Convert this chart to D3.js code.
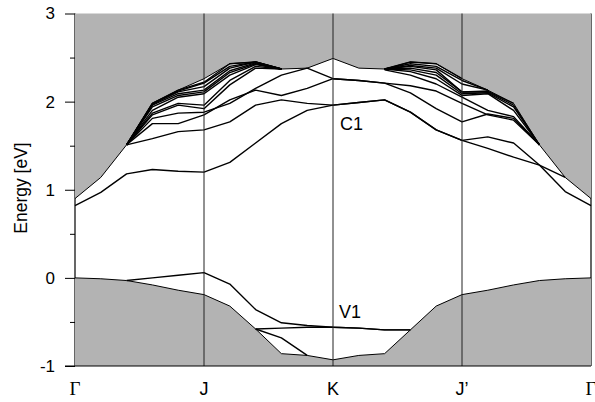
<!DOCTYPE html>
<html>
<head>
<meta charset="utf-8">
<script src="https://cdn.jsdelivr.net/npm/d3@7"></script>
<style>
  body { margin: 0; background: #fff; }
  svg { display: block; font-family: "Liberation Sans", Arial, sans-serif; }
</style>
</head>
<body>
<svg width="595" height="402"></svg>
<script>
// k-path: 21 points, Γ - J - K - J' - Γ
const kLabels = ["Γ", "J", "K", "J’", "Γ"];
const kTicks = [0, 5, 10, 15, 20];
const yTicks = [-1, 0, 1, 2, 3];
const yMinor = [-0.5, 0.5, 1.5, 2.5];

// edges of the shaded (continuum) regions
const upperEdge = [0.90, 1.14, 1.51, 1.98, 2.13, 2.26, 2.43, 2.45, 2.37, 2.38, 2.49, 2.38, 2.37, 2.45, 2.43, 2.26, 2.13, 1.98, 1.51, 1.14, 0.90];
const lowerEdge = [0.00, -0.01, -0.03, -0.08, -0.14, -0.19, -0.32, -0.58, -0.86, -0.88, -0.93, -0.88, -0.86, -0.59, -0.32, -0.19, -0.14, -0.08, -0.03, -0.01, 0.00];

// conduction bands (null = hidden under the edge)
const c1  = [0.82, 0.97, 1.18, 1.23, 1.21, 1.20, 1.31, 1.53, 1.75, 1.90, 1.96, 1.99, 2.02, 1.88, 1.68, 1.56, 1.47, 1.37, 1.28, 0.98, 0.82];
const c2  = [null, null, 1.51, 1.58, 1.66, 1.68, 1.77, 1.96, 2.02, 1.98, 1.96, 1.99, 2.02, 1.88, 1.68, 1.56, 1.60, 1.53, 1.28, 1.14, null];
const c3  = [null, null, 1.51, 1.75, 1.75, 1.85, 2.02, 2.13, 2.07, 2.15, 2.26, 2.24, 2.21, 2.10, 1.92, 1.77, 1.86, 1.81, 1.51, null, null];
const c4  = [null, null, 1.51, 1.81, 1.87, 1.88, 1.98, 2.15, 2.30, 2.38, 2.26, 2.24, 2.21, 2.18, 2.12, 1.98, 1.85, 1.79, 1.51, null, null];
const c5  = [null, null, 1.51, 1.85, 1.96, 1.92, 2.19, 2.38, 2.37, null, null, null, 2.36, 2.30, 2.20, 2.05, 1.90, 1.83, 1.51, null, null];
const c6  = [null, null, 1.51, 1.87, 1.98, 1.96, 2.24, 2.40, 2.37, null, null, null, 2.37, 2.34, 2.26, 2.07, 2.09, 1.90, 1.51, null, null];
const c7  = [null, null, 1.51, 1.90, 2.05, 2.09, 2.30, 2.42, 2.37, null, null, null, 2.37, 2.36, 2.30, 2.09, 2.10, 1.94, 1.51, null, null];
const c8  = [null, null, 1.51, 1.94, 2.07, 2.11, 2.33, 2.43, 2.37, null, null, null, 2.37, 2.38, 2.33, 2.11, 2.11, 1.96, 1.51, null, null];
const c9  = [null, null, 1.51, 1.96, 2.09, 2.13, 2.35, 2.44, 2.37, null, null, null, 2.37, 2.40, 2.36, 2.11, 2.12, 1.98, null, null, null];
const c10 = [null, null, 1.51, 1.97, 2.11, 2.17, 2.38, 2.45, 2.37, null, null, null, 2.37, 2.41, 2.38, 2.20, 2.13, null, null, null, null];
const c11 = [null, null, 1.51, 1.98, 2.12, 2.21, 2.40, 2.45, 2.37, null, null, null, 2.37, 2.43, 2.40, 2.24, 2.13, null, null, null, null];
const c12 = [null, null, 1.51, 1.98, 2.13, 2.22, 2.43, 2.45, 2.37, null, null, null, 2.37, 2.45, 2.43, 2.26, null, null, null, null, null];

// valence bands
const v1 = [null, null, -0.03, 0.00, 0.03, 0.06, -0.07, -0.36, -0.51, -0.54, -0.56, -0.57, -0.59, -0.59, null, null, null, null, null, null, null];
const v2 = [null, null, null, null, null, null, null, -0.58, -0.57, -0.56, -0.56, -0.57, -0.59, -0.59, null, null, null, null, null, null, null];
const v3 = [null, null, null, null, null, null, null, -0.58, -0.68, -0.88, null, null, null, null, null, null, null, null, null, null, null];

const bands = [c1, c2, c3, c4, c5, c6, c7, c8, c9, c10, c11, c12, v1, v2, v3];

const svg = d3.select("svg");
const x = d3.scaleLinear().domain([0, 20]).range([75, 591]);
const y = d3.scaleLinear().domain([-1, 3]).range([366, 13.5]);

// frame lines at the ends (drawn under the shading)
svg.selectAll(".edgek")
  .data([0, 20])
  .enter().append("line")
  .attr("x1", d => x(d)).attr("x2", d => x(d))
  .attr("y1", y(3)).attr("y2", y(-1))
  .attr("stroke", "#000").attr("stroke-width", 1.2);

const topArea = d3.area().x((d, i) => x(i)).y0(y(3)).y1(d => y(d));
const botArea = d3.area().x((d, i) => x(i)).y0(y(-1)).y1(d => y(d));

svg.append("path").attr("d", topArea(upperEdge)).attr("fill", "#b3b3b3");
svg.append("path").attr("d", botArea(lowerEdge)).attr("fill", "#b3b3b3");

const edgeLine = d3.line().x((d, i) => x(i)).y(d => y(d));
svg.selectAll(".edge")
  .data([upperEdge, lowerEdge])
  .enter().append("path")
  .attr("d", edgeLine)
  .attr("fill", "none")
  .attr("stroke", "#000")
  .attr("stroke-width", 1);

const bandLine = d3.line()
  .defined(d => d != null)
  .x((d, i) => x(i))
  .y(d => y(d));

svg.selectAll(".band")
  .data(bands)
  .enter().append("path")
  .attr("class", "band")
  .attr("d", bandLine)
  .attr("fill", "none")
  .attr("stroke", "#000")
  .attr("stroke-width", 1.4)
  .attr("stroke-linejoin", "round");

// symmetry point lines
svg.selectAll(".kline")
  .data(kTicks.slice(1, 4))
  .enter().append("line")
  .attr("x1", d => x(d)).attr("x2", d => x(d))
  .attr("y1", y(3)).attr("y2", y(-1))
  .attr("stroke", "#222").attr("stroke-width", 1);

// axes
const yAxis = svg.append("g")
  .attr("transform", `translate(${x(0)},0)`)
  .call(d3.axisLeft(y).tickValues(yTicks).tickFormat(d => String(d)).tickSize(10).tickPadding(10));
yAxis.select(".domain").remove();
yAxis.selectAll("text").attr("font-size", 17).attr("font-family", "'Liberation Sans', Arial, sans-serif").attr("fill", "#000");
yAxis.selectAll("line").attr("stroke", "#000");

const yAxisMinor = svg.append("g")
  .attr("transform", `translate(${x(0)},0)`)
  .call(d3.axisLeft(y).tickValues(yMinor).tickFormat("").tickSize(5));
yAxisMinor.select(".domain").remove();
yAxisMinor.selectAll("line").attr("stroke", "#000");

svg.append("line")
  .attr("x1", x(0) - 10).attr("x2", x(20))
  .attr("y1", y(-1)).attr("y2", y(-1))
  .attr("stroke", "#000").attr("stroke-width", 1.2);

svg.selectAll(".klabel")
  .data(kTicks)
  .enter().append("text")
  .attr("x", d => x(d))
  .attr("y", 395)
  .attr("text-anchor", "middle")
  .attr("font-size", (d, i) => kLabels[i] === "Γ" ? 19 : 18)
  .attr("font-family", (d, i) => kLabels[i] === "Γ" ? "'Liberation Serif', 'Times New Roman', serif" : null)
  .text((d, i) => kLabels[i]);

svg.append("text")
  .attr("transform", "translate(27,188) rotate(-90)")
  .attr("text-anchor", "middle")
  .attr("font-size", 17.5)
  .text("Energy [eV]");

svg.append("text").attr("x", x(10) + 7).attr("y", y(1.68)).attr("font-size", 18).text("C1");
svg.append("text").attr("x", x(10) + 6).attr("y", y(-0.46)).attr("font-size", 18).text("V1");
</script>
</body>
</html>
